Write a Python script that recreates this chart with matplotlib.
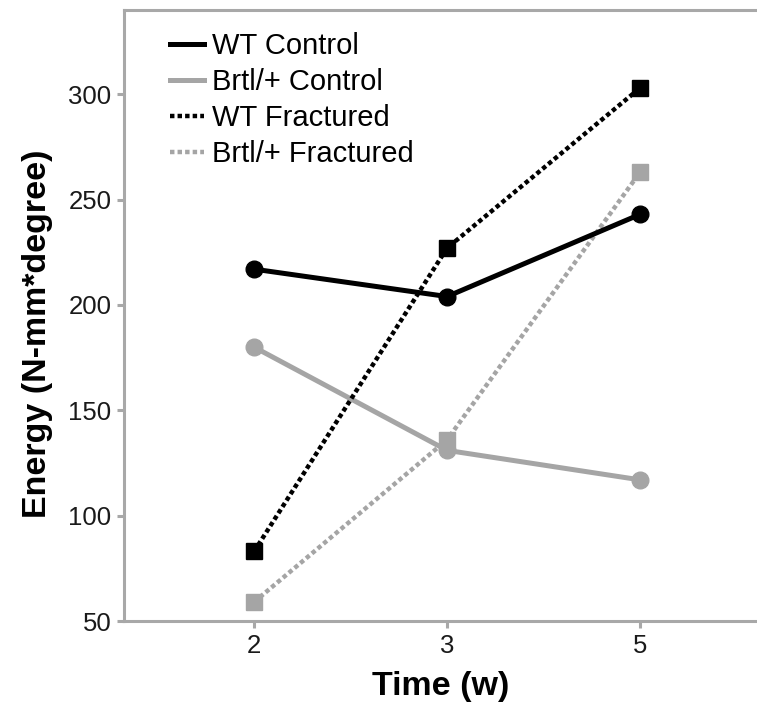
import matplotlib
matplotlib.use("Agg")
import matplotlib.pyplot as plt
from matplotlib.lines import Line2D

plt.rcParams['font.family'] = ['Liberation Sans', 'DejaVu Sans']

time_labels = ["2", "3", "5"]
wt_control = [217, 204, 243]
brtl_control = [180, 131, 117]
wt_fractured = [83, 227, 303]
brtl_fractured = [59, 136, 263]
series_names = ["WT Control", "Brtl/+ Control", "WT Fractured", "Brtl/+ Fractured"]

BLACK = "#000000"
GRAY = "#a5a5a5"
SPINE = "#a8a8a8"

fig = plt.figure(figsize=(7.57, 7.09), dpi=100)
ax = fig.add_axes([0.1638, 0.1241, 0.8362, 0.8618])
x = list(range(len(time_labels)))

lw = 3.6
lwd = 3.2
ms = 12
dots = (0, (1, 0.7))
ax.plot(x, wt_control, color=BLACK, lw=lw, marker='o', ms=ms, zorder=4)
ax.plot(x, brtl_control, color=GRAY, lw=lw, marker='o', ms=ms, zorder=3)
ax.plot(x, wt_fractured, color=BLACK, lw=lwd, ls=dots, dash_capstyle='butt',
        marker='s', ms=ms, zorder=4)
ax.plot(x, brtl_fractured, color=GRAY, lw=lwd, ls=dots, dash_capstyle='butt',
        marker='s', ms=ms, zorder=3)

ax.set_xlim(-0.674, 2.606)
ax.set_ylim(50, 340)
ax.set_xticks(x)
ax.set_xticklabels(time_labels)
ax.set_yticks([50, 100, 150, 200, 250, 300])

for s in ['left', 'bottom', 'top']:
    ax.spines[s].set_color(SPINE)
    ax.spines[s].set_linewidth(2.2)
ax.spines['right'].set_visible(False)
ax.tick_params(axis='both', colors=SPINE, width=2.2, length=5, labelsize=18.5,
               labelcolor='#1a1a1a', pad=4)

ax.set_xlabel("Time (w)", fontsize=24.5, fontweight='bold', labelpad=10)
ax.set_ylabel("Energy (N-mm*degree)", fontsize=24.5, fontweight='bold', labelpad=11)
ax.yaxis.label.set_y(0.47)

handles = [
    Line2D([], [], color=BLACK, lw=lw),
    Line2D([], [], color=GRAY, lw=lw),
    Line2D([], [], color=BLACK, lw=lwd, ls=dots, dash_capstyle='butt'),
    Line2D([], [], color=GRAY, lw=lwd, ls=dots, dash_capstyle='butt'),
]
fig.legend(handles, series_names, loc='upper left', bbox_to_anchor=(0.2246, 0.955),
           frameon=False, fontsize=21, handlelength=1.15, handletextpad=0.28,
           labelspacing=0.28, borderaxespad=0, borderpad=0)

fig.savefig("out.png", dpi=100)
